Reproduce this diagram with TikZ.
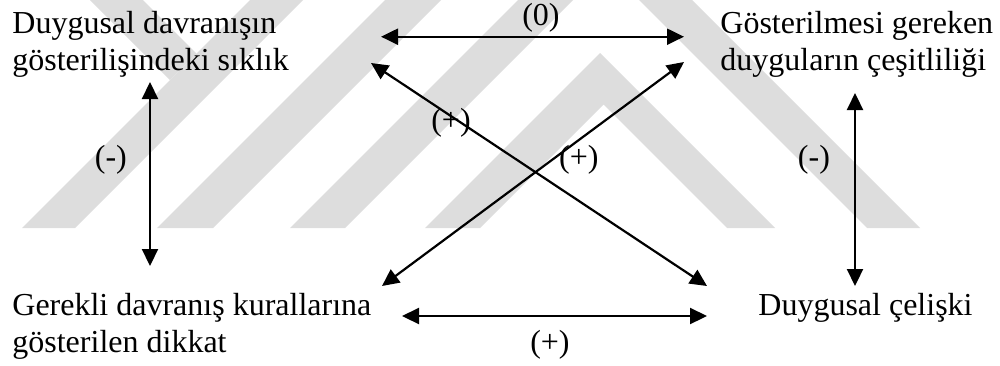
\documentclass[tikz,border=0pt]{standalone}
\usepackage{fontspec}
\setmainfont{Liberation Serif}
\usepackage{tikz}
\usetikzlibrary{arrows.meta,positioning}
\definecolor{wmgray}{RGB}{221,221,221}

\begin{document}
\begin{tikzpicture}[
  x=0.5pt, y=-0.5pt,
  concept/.style={align=left, inner sep=0pt, anchor=base west, font=\fontsize{16}{18.4}\selectfont},
  sign/.style={inner sep=0pt, font=\fontsize{16}{18.4}\selectfont},
  rel/.style={{Triangle[length=8.5pt,width=8pt]}-{Triangle[length=8.5pt,width=8pt]}, line width=1.1pt},
  stripe/.style={fill=wmgray, draw=none},
]
\useasboundingbox (0,0) rectangle (1000,365);

% watermark
\fill[stripe] (22,228) -- (75,228) -- (303,0) -- (250,0) -- cycle;
\fill[stripe] (90,0) -- (143,0) -- (196.5,53.5) -- (170,80) -- cycle;
\fill[stripe] (157,228) -- (213,228) -- (441,0) -- (385,0) -- cycle;
\fill[stripe] (290,228) -- (345,228) -- (573,0) -- (518,0) -- cycle;
\fill[stripe] (425,228) -- (600,53) -- (775,228) -- (727,228) -- (603.5,104.5) -- (480,228) -- cycle;
\fill[stripe] (867,228) -- (920,228) -- (692,0) -- (639,0) -- cycle;

% concepts (base = last line)
\node[concept] (freq) at (12,70) {Duygusal davranışın\\gösterilişindeki sıklık};
\node[concept] (variety) at (720,70) {Gösterilmesi gereken\\duyguların çeşitliliği};
\node[concept] (att) at (12,352) {Gerekli davranış kurallarına\\gösterilen dikkat};
\node[concept] (conflict) at (758,315) {Duygusal çelişki};

% arrow ends
\coordinate (freq-r) at (381,36.7);
\coordinate (var-l) at (684,36.7);
\coordinate (freq-d) at (371,63);
\coordinate (var-d) at (684,62);
\coordinate (freq-b) at (150,82);
\coordinate (var-b) at (855,93);
\coordinate (att-t) at (150,266);
\coordinate (att-d) at (382,286);
\coordinate (att-r) at (402,316);
\coordinate (conf-t) at (855,286);
\coordinate (conf-d) at (707,286);
\coordinate (conf-l) at (707,316);

% relations
\draw[rel] (freq-r) -- node[sign, above=1.7pt, pos=0.528] (s0) {(0)} (var-l);
\draw[rel] (att-r) -- node[sign, below=6.7pt, pos=0.485] (s1) {(+)} (conf-l);
\draw[rel] (freq-b) -- node[sign, left=11pt, pos=0.424] (s2) {(-)} (att-t);
\draw[rel] (var-b) -- node[sign, left=12pt, pos=0.347] (s3) {(-)} (conf-t);
\draw[rel] (freq-d) -- node[sign, pos=0.238, yshift=-3.5pt] (s4) {(+)} (conf-d);
\draw[rel] (att-d) -- node[sign, pos=0.652, yshift=-10pt] (s5) {(+)} (var-d);

\end{tikzpicture}
\end{document}
